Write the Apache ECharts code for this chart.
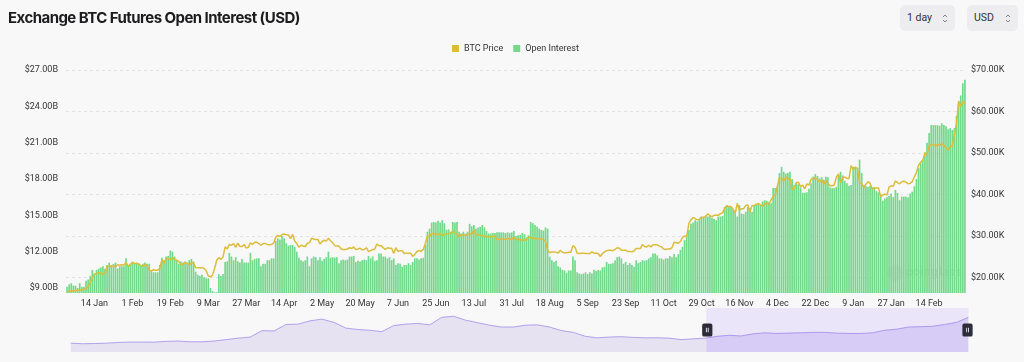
<!DOCTYPE html>
<html>
<head>
<meta charset="utf-8">
<script src="https://cdn.jsdelivr.net/npm/echarts@6/dist/echarts.min.js"></script>
<style>
html,body{margin:0;padding:0;background:#f8f8f8;width:1024px;height:362px;overflow:hidden;}
#chart{position:absolute;left:0;top:0;width:1024px;height:362px;}
#title{position:absolute;left:8px;top:8px;font-family:Inter,Roboto,sans-serif;font-size:15px;font-weight:700;color:#1c1c1e;letter-spacing:-0.55px;white-space:nowrap;}
.btn{position:absolute;top:5px;height:26px;border-radius:5px;background:#ededf0;font-family:Roboto,sans-serif;font-size:10.5px;color:#333;box-sizing:border-box;padding-left:7px;line-height:26px;}
.btn svg{position:absolute;top:8px;}
</style>
</head>
<body>
<div id="chart"></div>
<div id="title">Exchange BTC Futures Open Interest (USD)</div>
<div class="btn" style="left:900px;width:55px;">1 day<svg style="left:42px" width="6" height="11" viewBox="0 0 6 11"><path d="M1 4 L3 2 L5 4 M1 7 L3 9 L5 7" fill="none" stroke="#777" stroke-width="0.9"/></svg></div>
<div class="btn" style="left:967px;width:51px;">USD<svg style="left:38px" width="6" height="11" viewBox="0 0 6 11"><path d="M1 4 L3 2 L5 4 M1 7 L3 9 L5 7" fill="none" stroke="#777" stroke-width="0.9"/></svg></div>
<script>
// ---------- DATA ----------
const startYear = 2023, startMonth = 0, startDay = 1;   // first category = 1 Jan 2023
const monthNames = ['Jan','Feb','Mar','Apr','May','Jun','Jul','Aug','Sep','Oct','Nov','Dec'];

// Open interest, billions USD (one value per day)
const openInterest = [
  9.1, 9.3, 9.4, 9.2, 9.2, 9.0, 9.4, 9.1, 9.1, 9.6,
  9.7, 10.0, 10.5, 10.2, 10.5, 10.6, 10.7, 10.8, 10.6, 10.9,
  11.1, 10.9, 11.0, 11.1, 10.6, 10.8, 10.8, 10.8, 11.45, 10.9,
  11.0, 11.1, 11.0, 11.1, 11.0, 10.9, 11.0, 11.1, 11.0, 11.0,
  10.4, 10.3, 10.3, 10.3, 10.9, 11.5, 11.3, 11.6, 11.65, 12.1,
  12.0, 11.6, 11.3, 11.0, 11.2, 11.1, 11.2, 11.0, 11.3, 11.4,
  11.2, 10.35, 10.1, 10.0, 10.1, 9.9, 9.8, 9.8, 9.0, 8.75,
  8.65, 8.65, 10.15, 10.0, 10.15, 11.15, 11.2, 11.9, 11.6, 11.3,
  11.55, 11.2, 11.1, 11.4, 11.1, 11.1, 11.1, 11.9, 11.3, 11.4,
  11.45, 11.45, 10.8, 11.0, 11.0, 11.3, 11.3, 11.45, 11.45, 12.9,
  13.1, 13.0, 13.3, 13.1, 12.7, 12.5, 12.55, 12.55, 12.4, 12.0,
  11.5, 11.3, 11.2, 11.3, 11.6, 10.8, 11.45, 11.6, 11.55, 11.3,
  11.55, 11.25, 11.4, 11.55, 12.0, 11.5, 11.55, 11.5, 11.55, 11.05,
  11.3, 11.35, 11.3, 11.35, 11.6, 11.6, 11.65, 11.15, 11.25, 11.2,
  11.3, 11.35, 11.3, 11.65, 11.45, 11.6, 11.25, 11.3, 11.85, 11.85,
  11.6, 11.6, 11.45, 11.55, 11.3, 11.45, 10.9, 11.05, 11.0, 10.75,
  10.9, 10.9, 11.05, 10.9, 11.15, 11.45, 11.45, 11.35, 11.45, 11.5,
  12.55, 13.65, 13.9, 14.4, 14.45, 14.4, 14.55, 14.4, 14.6, 14.35,
  13.8, 13.85, 13.65, 14.45, 14.4, 14.45, 13.65, 13.5, 13.65, 13.5,
  13.65, 14.3, 14.1, 14.2, 13.9, 14.0, 14.05, 14.2, 14.0, 13.7,
  13.5, 13.5, 13.55, 13.55, 13.6, 13.6, 13.6, 13.6, 13.55, 13.6,
  13.55, 13.6, 13.7, 13.3, 13.35, 13.4, 13.55, 13.45, 13.2, 13.35,
  14.45, 14.35, 14.2, 14.05, 13.9, 13.8, 13.75, 14.0, 13.9, 11.6,
  11.3, 11.15, 11.25, 10.8, 10.7, 10.5, 10.45, 10.25, 10.45, 10.45,
  11.6, 11.3, 10.3, 10.2, 10.15, 10.2, 10.3, 10.15, 10.3, 10.2,
  10.5, 10.4, 10.5, 10.45, 10.7, 10.75, 11.15, 11.0, 11.0, 11.05,
  11.3, 11.55, 11.6, 11.45, 11.0, 11.15, 10.9, 11.05, 10.9, 10.75,
  11.3, 11.05, 11.15, 11.3, 11.25, 11.3, 11.45, 11.55, 11.85, 11.85,
  11.7, 11.45, 11.45, 11.35, 11.45, 11.45, 11.65, 11.55, 11.8, 11.55,
  11.8, 12.15, 12.4, 12.95, 13.4, 13.8,
  14.3, 14.4, 14.6, 14.5,
  14.7, 14.9, 14.9, 15.0, 14.9, 14.95, 14.8, 14.7, 14.6, 14.9,
  14.9, 14.95, 15.7, 15.85, 15.7, 15.7, 15.5, 15.3, 14.9, 15.85,
  15.15, 15.1, 15.3, 15.7, 15.6, 15.3, 15.85, 15.9, 16.0, 15.85,
  16.15, 16.25, 16.2, 16.1, 16.0, 17.25, 17.25, 17.35, 18.5, 19.0,
  18.6, 18.45, 18.5, 18.6, 18.0, 17.5, 17.65, 17.55, 17.3, 16.85,
  16.85, 16.9, 17.2, 17.65, 18.2, 18.4, 18.25, 18.05, 18.15, 17.95,
  18.2, 18.15, 17.3, 17.25, 17.25, 17.35, 18.3, 18.6, 18.3, 17.85,
  17.65, 17.45, 17.5, 19.0, 19.0, 18.9, 19.6, 18.5, 17.5, 17.4,
  17.35, 17.45, 17.3, 17.3, 17.0, 16.9, 16.75, 16.2, 16.4, 16.5,
  16.6, 16.8, 16.5, 17.1, 16.85, 16.25, 16.55, 16.55, 16.55, 16.5,
  16.8, 16.95, 17.4, 18.0, 18.9, 19.3, 19.6, 20.2, 21.0, 21.8,
  22.45, 22.45, 22.45, 22.45, 22.4, 22.6, 22.45, 22.35, 22.1, 22.2,
  22.05, 22.2, 23.2, 24.2, 24.9, 25.9, 26.2
];

// BTC price, thousands USD (one value per day)
const btcPrice = [
  16.6, 16.7, 16.7, 16.9, 16.8, 16.95, 16.95, 17.1, 17.2, 17.4, 17.9, 18.8, 19.9, 20.9, 20.9, 21.2, 21.1, 20.7, 21.1, 22.7, 22.8, 22.7, 22.9, 22.6, 23.1, 23.0, 23.1, 23.0, 23.7, 22.8, 23.1,
  23.7, 23.4, 23.4, 23.3, 22.9, 22.8, 23.2, 22.9, 21.8, 21.6, 21.9, 21.8, 21.8, 22.2, 24.3, 23.5, 24.6, 24.6, 24.3, 24.8, 24.4, 24.2, 23.9, 23.2, 23.2, 23.6, 23.5, 23.1,
  23.6, 23.5, 22.4, 22.4, 22.4, 22.4, 22.2, 21.7, 20.4, 20.2, 20.6, 22.2, 24.2, 24.8, 24.4, 25.0, 27.4, 26.9, 28.0, 27.8, 28.2, 27.3, 28.3, 27.5, 27.5, 28.0, 27.1, 27.3, 28.4, 28.0, 28.5,
  28.5, 28.2, 27.8, 28.2, 28.2, 28.0, 27.9, 28.0, 28.3, 29.7, 30.2, 29.9, 30.4, 30.5, 30.3, 30.3, 29.4, 30.4, 28.8, 28.2, 27.3, 27.8, 27.6, 27.5, 28.3, 28.4, 29.5, 29.3, 29.2, 29.2,
  28.1, 28.7, 29.0, 28.8, 29.5, 28.9, 28.4, 27.7, 27.6, 27.6, 26.9, 26.8, 26.8, 26.9, 27.2, 27.0, 27.4, 26.8, 26.9, 27.1, 26.7, 26.8, 27.2, 26.3, 26.5, 26.7, 26.9, 28.1, 27.7, 27.7, 27.2,
  26.8, 27.2, 27.1, 27.1, 25.8, 27.2, 26.3, 26.5, 26.5, 25.8, 25.9, 25.9, 25.9, 25.1, 25.6, 26.3, 26.5, 26.3, 26.8, 28.3, 30.0, 29.9, 30.7, 30.5, 30.5, 30.3, 30.7, 30.1, 30.4, 30.5,
  30.6, 30.6, 31.2, 30.8, 30.5, 29.9, 30.3, 30.3, 30.2, 30.4, 30.6, 30.4, 31.5, 30.3, 30.3, 30.2, 30.1, 29.9, 29.9, 29.8, 29.9, 29.8, 30.1, 29.2, 29.2, 29.4, 29.2, 29.3, 29.4, 29.3, 29.2,
  29.7, 29.2, 29.2, 29.1, 29.0, 29.0, 29.2, 29.8, 29.6, 29.4, 29.4, 29.4, 29.3, 29.4, 29.2, 28.7, 26.6, 26.0, 26.2, 26.2, 26.1, 25.9, 26.6, 26.1, 26.0, 26.0, 26.1, 26.1, 27.7, 27.3, 25.9,
  25.8, 25.9, 25.9, 25.8, 25.8, 25.8, 26.2, 25.9, 25.9, 25.8, 25.1, 25.8, 26.2, 26.5, 26.6, 26.6, 26.5, 26.8, 27.2, 27.1, 26.6, 26.6, 26.6, 26.3, 26.3, 26.2, 26.4, 27.0, 27.0, 27.0,
  28.0, 27.5, 27.4, 27.8, 27.4, 27.9, 27.9, 27.9, 27.6, 27.4, 26.9, 26.8, 26.9, 26.9, 27.2, 28.5, 28.4, 28.3, 28.7, 29.7, 30.0, 29.9, 33.0, 33.9, 34.5, 34.2, 33.9, 34.1, 34.5, 34.5, 34.7,
  35.4, 34.9, 34.7, 35.0, 35.0, 35.0, 35.4, 35.6, 36.7, 37.3, 37.1, 37.1, 36.5, 35.5, 37.9, 36.2, 36.6, 36.6, 37.4, 37.5, 35.8, 37.4, 37.3, 37.7, 37.8, 37.5, 37.2, 37.8, 37.9, 37.7,
  38.7, 39.5, 39.9, 42.0, 44.1, 43.8, 43.3, 44.2, 43.8, 43.8, 41.2, 41.5, 42.9, 43.0, 41.9, 42.3, 41.4, 42.6, 42.3, 43.7, 43.9, 44.0, 43.7, 43.0, 43.6, 42.5, 43.4, 42.6, 42.1, 42.1, 42.3,
  44.2, 45.0, 42.8, 44.2, 44.2, 43.9, 43.9, 47.0, 46.1, 46.6, 46.3, 42.8, 42.8, 41.7, 42.5, 43.1, 42.7, 41.3, 41.6, 41.6, 41.6, 39.5, 39.9, 40.1, 39.9, 41.8, 42.1, 42.0, 43.3, 42.9, 42.6,
  43.1, 43.2, 43.0, 42.6, 42.7, 43.1, 44.3, 45.3, 47.1, 47.8, 48.3, 50.0, 49.7, 51.8, 52.0, 52.1, 51.6, 52.1, 51.8, 52.3, 51.8, 51.3, 50.7, 51.6, 51.7, 54.5, 57.1, 62.5, 61.2,
  62.4, 62.0
];

// Longer BTC price history (thousands USD) drawn as the slider's data shadow
const sliderHistory = [
  8.7, 7.5, 8.0, 8.7, 10.2, 10.9, 10.9, 10.9, 12.4, 13.1,
  11.6, 11.6, 13.1, 16.0, 19.0, 21.2, 34.5, 33.7, 47.0, 47.7,
  54.4, 58.0, 51.4, 39.6, 36.6, 35.2, 32.3, 44.8, 47.7, 49.2,
  46.3, 61.7, 63.9, 55.8, 50.7, 45.6, 41.8, 41.8, 45.6, 46.3,
  41.8, 34.5, 30.8, 22.7, 19.7, 21.2, 22.0, 20.5, 19.7, 19.7,
  19.0, 16.0, 17.5, 19.0, 22.7, 24.9, 23.4, 27.8, 30.0, 28.6,
  29.3, 30.0, 30.8, 30.8, 29.3, 28.6, 28.6, 30.0, 35.2, 37.4,
  41.8, 42.5, 43.3, 47.0, 51.4, 61.7
];
const sliderWindow = [70.8, 100];

const leftTicks = [9, 12, 15, 18, 21, 24, 27];        // $B
const rightTicks = [20, 30, 40, 50, 60, 70];          // $K
const leftRange = [8.59, 27];
const rightRange = [16.3, 70];
const firstLabelIndex = 13, labelStep = 18;

// ---------- BUILD ----------
const categories = openInterest.map((_, i) => {
  const d = new Date(Date.UTC(startYear, startMonth, startDay + i));
  return d.getUTCDate() + ' ' + monthNames[d.getUTCMonth()];
});

const FONT = 'Roboto';
const chart = echarts.init(document.getElementById('chart'), null, {renderer: 'canvas'});
const option = {
  animation: false,
  backgroundColor: 'transparent',
  textStyle: {fontFamily: FONT},
  legend: {
    data: ['BTC Price', 'Open Interest'],
    left: 452, top: 44, padding: 0,
    icon: 'rect', itemWidth: 7, itemHeight: 7, itemGap: 10,
    textStyle: {fontSize: 9, color: '#333', fontFamily: FONT}
  },
  grid: [
    {left: 66, right: 58, top: 70, bottom: 69},
    {left: 68, right: 58, top: 308, height: 44, show: false}
  ],
  xAxis: [
    {
      type: 'category', data: categories, boundaryGap: true,
      axisLine: {show: false}, axisTick: {show: false},
      axisLabel: {
        interval: (i) => i >= firstLabelIndex && (i - firstLabelIndex) % labelStep === 0,
        fontSize: 9, color: '#333', margin: 6, fontFamily: FONT
      }
    },
    {type: 'category', gridIndex: 1, data: sliderHistory.map((_, i) => i), show: false}
  ],
  yAxis: [
    {
      type: 'value', position: 'left', min: leftRange[0], max: leftRange[1],
      axisLine: {show: false}, axisTick: {show: false, customValues: leftTicks},
      splitLine: {show: false},
      axisLabel: {customValues: leftTicks, formatter: v => '$' + v.toFixed(2) + 'B', fontSize: 9, color: '#333', margin: 8, fontFamily: FONT}
    },
    {
      type: 'value', position: 'right', min: rightRange[0], max: rightRange[1],
      axisLine: {show: false}, axisTick: {show: false, customValues: rightTicks},
      splitLine: {show: true, lineStyle: {type: [3, 3], color: '#e2e2e2', width: 1}},
      axisLabel: {customValues: rightTicks, formatter: v => '$' + v.toFixed(2) + 'K', fontSize: 9, color: '#333', margin: 5, fontFamily: FONT}
    },
    {type: 'value', gridIndex: 1, show: false, scale: true}
  ],
  dataZoom: [{
    type: 'slider', xAxisIndex: 1, filterMode: 'none',
    start: sliderWindow[0], end: sliderWindow[1],
    left: 68, right: 58, top: 308, height: 44,
    backgroundColor: 'rgba(0,0,0,0)', borderColor: 'rgba(0,0,0,0)', borderRadius: 0,
    fillerColor: 'rgba(150,115,245,0.14)',
    showDataShadow: true, showDetail: false, brushSelect: false,
    moveHandleSize: 0,
    dataBackground: {lineStyle: {color: '#a08ee8', width: 0.8, opacity: 1}, areaStyle: {color: '#e6e2f2', opacity: 1}},
    selectedDataBackground: {lineStyle: {color: '#a08ee8', width: 0.8, opacity: 1}, areaStyle: {color: '#e2dbf5', opacity: 1}},
    handleIcon: 'path://M2,0 H9 Q11,0 11,2 V12 Q11,14 9,14 H2 Q0,14 0,12 V2 Q0,0 2,0 Z M4,4.5 V9.5 H5 V4.5 Z M6,4.5 V9.5 H7 V4.5 Z',
    handleSize: 13,
    handleStyle: {color: '#2c2b38', borderColor: '#2c2b38', borderWidth: 0},
    emphasis: {handleStyle: {color: '#2c2b38', borderColor: '#2c2b38'}}
  }],
  graphic: [
    {type: 'text', left: 906, top: 266, silent: true,
     style: {text: 'coinglass', fontSize: 13, fontWeight: 'bold', fontFamily: FONT, fill: 'rgba(120,120,120,0.22)'}},
    {type: 'circle', left: 887, top: 265, silent: true, shape: {r: 8}, style: {fill: 'rgba(120,120,120,0.16)'}}
  ],
  series: [
    {
      name: 'Open Interest', type: 'bar', xAxisIndex: 0, yAxisIndex: 0, data: openInterest,
      barCategoryGap: '20%', itemStyle: {color: '#72d98a'}
    },
    {
      name: 'BTC Price', type: 'line', xAxisIndex: 0, yAxisIndex: 1, data: btcPrice,
      symbol: 'none', z: 5,
      lineStyle: {color: '#dcbd3b', width: 1.5}, itemStyle: {color: '#dcbd3b'}
    },
    {
      name: 'history', type: 'line', xAxisIndex: 1, yAxisIndex: 2, data: sliderHistory,
      symbol: 'none', silent: true, lineStyle: {opacity: 0}, itemStyle: {opacity: 0}
    }
  ]
};
chart.setOption(option);
</script>
</body>
</html>
